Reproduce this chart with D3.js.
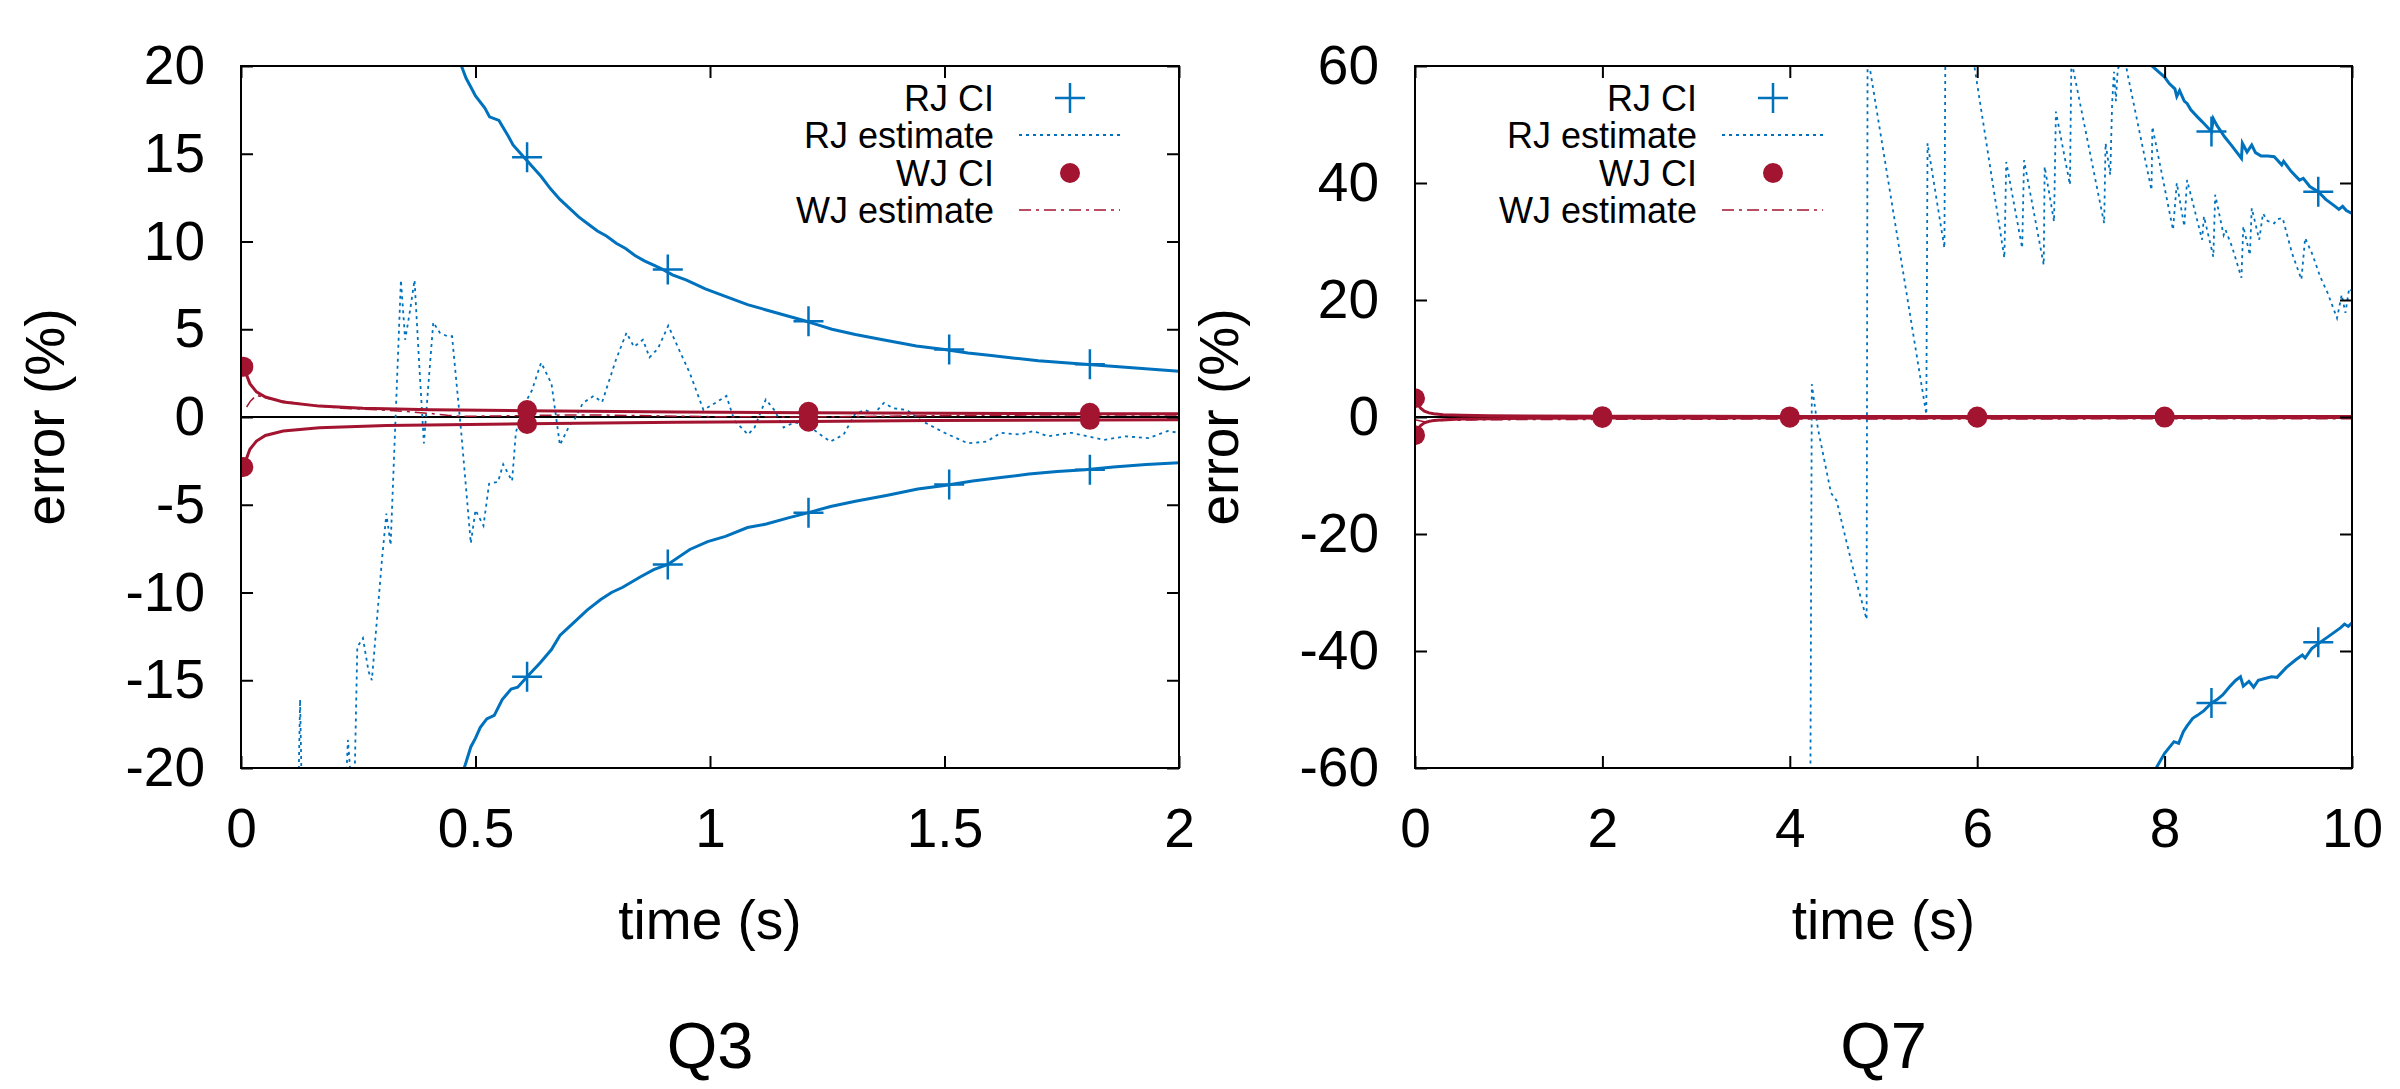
<!DOCTYPE html>
<html>
<head>
<meta charset="utf-8">
<script src="https://cdn.jsdelivr.net/npm/d3@7"></script>
<style>
  body { margin: 0; background: #fff; }
  text { font-family: "Liberation Sans", Arial, sans-serif; }
</style>
</head>
<body>
<svg id="chart" width="2400" height="1089"></svg>
<script>
// ---- data ----
const q3XTicks = [0, 0.5, 1, 1.5, 2];
const q3YTicks = [-20, -15, -10, -5, 0, 5, 10, 15, 20];
const q7XTicks = [0, 2, 4, 6, 8, 10];
const q7YTicks = [-60, -40, -20, 0, 20, 40, 60];
const legendLabels = ["RJ CI", "RJ estimate", "WJ CI", "WJ estimate"];

const q3RjUpper = [[0.46,20.6],[0.47,20.0],[0.48,19.3],[0.49,18.8],[0.5,18.3],[0.52,17.6],[0.53,17.1],[0.55,16.9],[0.57,16.0],[0.58,15.5],[0.6,14.9],[0.62,14.3],[0.64,13.7],[0.66,13.0],[0.68,12.4],[0.7,11.9],[0.72,11.4],[0.74,11.0],[0.76,10.6],[0.78,10.3],[0.8,9.9],[0.82,9.6],[0.84,9.2],[0.86,8.9],[0.88,8.65],[0.9,8.4],[0.92,8.1],[0.95,7.8],[0.99,7.3],[1.02,7.0],[1.05,6.7],[1.08,6.4],[1.12,6.1],[1.16,5.8],[1.2,5.5],[1.23,5.25],[1.26,5.0],[1.31,4.7],[1.36,4.45],[1.4,4.25],[1.44,4.05],[1.5,3.85],[1.55,3.65],[1.6,3.5],[1.65,3.35],[1.7,3.2],[1.75,3.1],[1.8,3.0],[1.85,2.9],[1.9,2.8],[1.95,2.7],[2.0,2.6]];
const q3RjLower = [[0.47,-20.6],[0.476,-20.0],[0.49,-18.8],[0.5,-18.3],[0.51,-17.7],[0.524,-17.2],[0.54,-17.0],[0.557,-16.1],[0.576,-15.5],[0.59,-15.4],[0.61,-14.8],[0.638,-14.0],[0.662,-13.25],[0.68,-12.45],[0.71,-11.7],[0.738,-11.0],[0.767,-10.4],[0.79,-10.0],[0.814,-9.7],[0.852,-9.1],[0.88,-8.7],[0.91,-8.4],[0.957,-7.55],[0.995,-7.1],[1.033,-6.8],[1.08,-6.3],[1.12,-6.1],[1.167,-5.75],[1.21,-5.45],[1.257,-5.1],[1.31,-4.8],[1.376,-4.47],[1.443,-4.1],[1.5,-3.9],[1.56,-3.65],[1.62,-3.45],[1.68,-3.25],[1.74,-3.1],[1.8,-3.0],[1.86,-2.85],[1.93,-2.7],[2.0,-2.6]];
const q3RjMarks = [[0.61,14.8],[0.91,8.4],[1.21,5.45],[1.51,3.85],[1.81,3.0],[0.61,-14.8],[0.91,-8.4],[1.21,-5.45],[1.51,-3.85],[1.81,-3.0]];
const q3RjEstimate = [[0.10,-26],[0.122,-22],[0.126,-16.1],[0.13,-22],[0.135,-26],[0.2,-26],[0.222,-22],[0.228,-18.4],[0.238,-22],[0.242,-21],[0.248,-13.1],[0.26,-12.6],[0.272,-14.5],[0.279,-15.0],[0.29,-11.5],[0.3,-8.3],[0.31,-5.5],[0.319,-7.3],[0.341,7.8],[0.35,4.4],[0.36,6.0],[0.37,7.8],[0.38,3.0],[0.39,-1.5],[0.4,2.0],[0.41,5.4],[0.424,4.8],[0.44,4.6],[0.45,4.6],[0.47,-1.0],[0.49,-7.2],[0.5,-5.3],[0.517,-6.2],[0.529,-3.8],[0.548,-3.7],[0.559,-2.7],[0.578,-3.65],[0.586,-0.9],[0.6,0.5],[0.62,1.5],[0.64,3.1],[0.662,1.9],[0.68,-1.6],[0.7,-0.5],[0.71,-0.2],[0.729,0.8],[0.752,1.2],[0.77,0.85],[0.8,3.3],[0.822,4.8],[0.838,4.0],[0.857,4.4],[0.871,3.4],[0.889,3.9],[0.911,5.2],[0.938,3.6],[0.957,2.5],[0.986,0.4],[1.005,0.7],[1.035,1.2],[1.052,-0.2],[1.081,-1.0],[1.095,-0.6],[1.119,1.0],[1.137,0.4],[1.157,-0.6],[1.18,-0.3],[1.21,-0.5],[1.235,-1.0],[1.257,-1.4],[1.285,-1.0],[1.31,0.2],[1.33,0.4],[1.35,0.2],[1.371,0.8],[1.39,0.5],[1.42,0.4],[1.45,-0.2],[1.5,-0.9],[1.55,-1.5],[1.59,-1.4],[1.62,-0.9],[1.66,-1.0],[1.69,-0.8],[1.72,-1.1],[1.77,-0.9],[1.84,-1.3],[1.886,-1.1],[1.935,-1.2],[1.976,-0.8],[2.0,-0.9]];
const q3WjUpper = [[0.005,2.87],[0.019,1.9],[0.033,1.43],[0.052,1.14],[0.09,0.86],[0.167,0.62],[0.26,0.5],[0.405,0.42],[0.61,0.36],[0.93,0.28],[1.21,0.24],[1.5,0.21],[1.81,0.19],[2.0,0.18]];
const q3WjLower = [[0.005,-2.85],[0.019,-1.84],[0.033,-1.37],[0.052,-1.05],[0.09,-0.8],[0.167,-0.61],[0.31,-0.48],[0.61,-0.38],[0.93,-0.3],[1.21,-0.25],[1.47,-0.2],[1.81,-0.17],[2.0,-0.16]];
const q3WjMarks = [[0.005,2.87],[0.005,-2.85],[0.61,0.4],[0.61,-0.4],[1.21,0.3],[1.21,-0.27],[1.81,0.24],[1.81,-0.16]];
const q3WjEstimate = [[0.012,0.57],[0.02,0.9],[0.033,1.24],[0.05,1.1],[0.08,0.95],[0.12,0.78],[0.16,0.65],[0.214,0.5],[0.26,0.45],[0.31,0.38],[0.36,0.3],[0.405,0.2],[0.44,0.1],[0.47,0.04],[0.55,0.06],[0.64,0.1],[0.75,0.12],[0.9,0.06],[1.0,0.02],[1.2,0.0],[1.4,0.05],[1.6,0.1],[1.8,0.12],[2.0,0.12]];

const q7RjUpper = [[7.85,61],[7.865,60],[8.0,58.1],[8.05,57],[8.11,56.1],[8.13,54.8],[8.16,55.8],[8.21,54.0],[8.24,53.6],[8.28,52.5],[8.35,51.3],[8.4,50.5],[8.5,48.8],[8.52,51],[8.56,49.8],[8.64,47.9],[8.72,46.3],[8.82,44.2],[8.83,46.8],[8.88,45.3],[8.93,46.5],[8.97,45.2],[9.03,44.6],[9.1,44.6],[9.17,44.5],[9.25,43.1],[9.27,43.7],[9.35,42.0],[9.44,40.5],[9.48,40.8],[9.55,39.4],[9.64,38.5],[9.72,37.2],[9.82,36.0],[9.86,35.5],[9.9,36.0],[9.94,35.3],[10.0,34.8]];
const q7RjLower = [[7.86,-61],[7.91,-60],[8.0,-57.5],[8.1,-55.5],[8.15,-55.8],[8.2,-53.8],[8.24,-52.8],[8.3,-51.5],[8.35,-51.0],[8.42,-50.2],[8.5,-48.9],[8.56,-48.3],[8.62,-47.5],[8.7,-46.0],[8.76,-45.0],[8.81,-44.4],[8.84,-46.0],[8.9,-45.2],[8.95,-46.2],[9.0,-45.0],[9.14,-44.4],[9.2,-44.5],[9.3,-42.8],[9.4,-41.5],[9.47,-40.7],[9.5,-41.2],[9.57,-39.6],[9.67,-38.4],[9.75,-37.5],[9.88,-36.0],[9.92,-35.4],[9.96,-35.8],[10.0,-35.2]];
const q7RjMarks = [[8.5,48.8],[9.64,38.5],[8.5,-48.9],[9.64,-38.5]];
const q7RjEstimate = [[4.2,-70],[4.22,-62],[4.235,5.6],[4.3,-2],[4.44,-13],[4.5,-14.3],[4.6,-21],[4.7,-27.5],[4.82,-34.6],[4.83,62],[5.457,0.45],[5.47,46.8],[5.65,28.9],[5.66,62],[5.95,62],[6.29,27.2],[6.31,43.6],[6.48,28.9],[6.5,43.9],[6.71,26],[6.72,42.8],[6.82,33.4],[6.84,52.2],[6.99,39.7],[7.005,61],[7.355,33.1],[7.37,46.8],[7.42,41.4],[7.44,53.6],[7.46,59],[7.48,54],[7.5,59.5],[7.55,61],[7.58,61],[7.6,59],[7.86,38.8],[7.87,49.6],[8.09,32],[8.13,40],[8.21,32.6],[8.24,40.5],[8.40,30.3],[8.42,34.3],[8.52,27.4],[8.54,38],[8.63,31.1],[8.65,32.0],[8.72,29.1],[8.82,23.8],[8.84,32.6],[8.91,27.7],[8.93,35.7],[9.01,30.3],[9.05,34.8],[9.1,33.5],[9.17,33.1],[9.2,33.8],[9.26,34],[9.36,28],[9.46,23.5],[9.5,30.6],[9.58,27.7],[9.66,24],[9.74,21.2],[9.84,16.9],[9.89,20.9],[9.93,17.8],[9.97,22],[10.0,21.5]];
const q7WjUpper = [[0,3.2],[0.03,2.2],[0.06,1.5],[0.1,1.0],[0.15,0.7],[0.2,0.55],[0.3,0.4],[0.5,0.3],[0.8,0.22],[1.2,0.18],[2,0.14],[3,0.12],[4,0.1],[6,0.09],[8,0.08],[10,0.07]];
const q7WjLower = [[0,-3.1],[0.03,-2.1],[0.06,-1.45],[0.1,-1.0],[0.15,-0.75],[0.2,-0.6],[0.3,-0.45],[0.5,-0.35],[0.8,-0.28],[1.2,-0.22],[2,-0.18],[3,-0.15],[4,-0.13],[6,-0.12],[8,-0.1],[10,-0.1]];
const q7WjMarks = [[0,3.2],[0,-3.1],[2,0.14],[2,-0.18],[4,0.1],[4,-0.13],[6,0.09],[6,-0.12],[8,0.08],[8,-0.1]];
const q7WjEstimate = [[0.01,-0.5],[0.1,-0.8],[0.3,-0.6],[0.6,-0.5],[1,-0.45],[2,-0.4],[4,-0.35],[6,-0.35],[8,-0.3],[10,-0.3]];

const blue = "#0072bd", red = "#a2142f";

const svg = d3.select("#chart");
svg.append("rect").attr("width", 2400).attr("height", 1089).attr("fill", "#fff");

const panels = [
  { id: "q3", title: "Q3", left: 241, right: 1179, xDomain: [0, 2], yDomain: [-20, 20],
    xTicks: q3XTicks, yTicks: q3YTicks, legendX: 994,
    rjUp: q3RjUpper, rjLo: q3RjLower, rjMarks: q3RjMarks, rjEst: q3RjEstimate,
    wjUp: q3WjUpper, wjLo: q3WjLower, wjMarks: q3WjMarks, wjEst: q3WjEstimate },
  { id: "q7", title: "Q7", left: 1415, right: 2352, xDomain: [0, 10], yDomain: [-60, 60],
    xTicks: q7XTicks, yTicks: q7YTicks, legendX: 1697,
    rjUp: q7RjUpper, rjLo: q7RjLower, rjMarks: q7RjMarks, rjEst: q7RjEstimate,
    wjUp: q7WjUpper, wjLo: q7WjLower, wjMarks: q7WjMarks, wjEst: q7WjEstimate }
];

const plotTop = 66, plotBottom = 768;
const crossPath = "M-15,0H15M0,-15V15";
const dotR = 10;

panels.forEach(p => {
  const x = d3.scaleLinear().domain(p.xDomain).range([p.left, p.right]);
  const y = d3.scaleLinear().domain(p.yDomain).range([plotBottom, plotTop]);
  const g = svg.append("g");

  g.append("clipPath").attr("id", "clip-" + p.id)
    .append("rect").attr("x", p.left).attr("y", plotTop)
    .attr("width", p.right - p.left).attr("height", plotBottom - plotTop);

  const line = d3.line().x(d => x(d[0])).y(d => y(d[1]));
  const plot = g.append("g").attr("clip-path", "url(#clip-" + p.id + ")");

  // zero line
  plot.append("line")
    .attr("x1", p.left).attr("x2", p.right)
    .attr("y1", y(0)).attr("y2", y(0))
    .attr("stroke", "#000").attr("stroke-width", 2);

  // RJ CI
  [p.rjUp, p.rjLo].forEach(s => {
    plot.append("path").datum(s).attr("d", line)
      .attr("fill", "none").attr("stroke", blue).attr("stroke-width", 3);
  });
  plot.selectAll(".cross").data(p.rjMarks).enter().append("path")
    .attr("transform", d => `translate(${x(d[0])},${y(d[1])})`)
    .attr("d", crossPath).attr("stroke", blue).attr("stroke-width", 2.5);

  // RJ estimate
  plot.append("path").datum(p.rjEst).attr("d", line)
    .attr("fill", "none").attr("stroke", blue).attr("stroke-width", 1.8)
    .attr("stroke-dasharray", "3,4");

  // WJ estimate
  plot.append("path").datum(p.wjEst).attr("d", line)
    .attr("fill", "none").attr("stroke", red).attr("stroke-width", 1.5)
    .attr("stroke-dasharray", "12,5,3,5");

  // WJ CI
  [p.wjUp, p.wjLo].forEach(s => {
    plot.append("path").datum(s).attr("d", line)
      .attr("fill", "none").attr("stroke", red).attr("stroke-width", 3);
  });
  plot.selectAll(".dot").data(p.wjMarks).enter().append("circle")
    .attr("cx", d => x(d[0])).attr("cy", d => y(d[1])).attr("r", dotR)
    .attr("fill", red);

  // axes (ticks inward on all four sides)
  const styleAxis = a => {
    a.select(".domain").remove();
    a.selectAll("line").attr("stroke", "#000").attr("stroke-width", 2);
    a.selectAll("text").attr("fill", "#000")
      .style("font-family", '"Liberation Sans", Arial, sans-serif')
      .style("font-size", "55px");
  };
  g.append("g").attr("transform", `translate(${p.left},0)`)
    .call(d3.axisLeft(y).tickValues(p.yTicks).tickSize(-12).tickPadding(36).tickFormat(d => String(d)))
    .call(styleAxis);
  g.append("g").attr("transform", `translate(${p.right},0)`)
    .call(d3.axisRight(y).tickValues(p.yTicks).tickSize(-12).tickFormat(() => ""))
    .call(styleAxis);
  g.append("g").attr("transform", `translate(0,${plotBottom})`)
    .call(d3.axisBottom(x).tickValues(p.xTicks).tickSize(-12).tickPadding(40).tickFormat(d => String(d)))
    .call(styleAxis);
  g.append("g").attr("transform", `translate(0,${plotTop})`)
    .call(d3.axisTop(x).tickValues(p.xTicks).tickSize(-12).tickFormat(() => ""))
    .call(styleAxis);

  g.append("rect").attr("x", p.left).attr("y", plotTop)
    .attr("width", p.right - p.left).attr("height", plotBottom - plotTop)
    .attr("fill", "none").attr("stroke", "#000").attr("stroke-width", 2);

  // labels
  const cx = (p.left + p.right) / 2;
  g.append("text").attr("x", cx).attr("y", 939).attr("text-anchor", "middle")
    .style("font-size", "55px").text("time (s)");
  g.append("text").attr("transform", `translate(${p.left - 177},${(plotTop + plotBottom) / 2}) rotate(-90)`)
    .attr("text-anchor", "middle").style("font-size", "55px").text("error (%)");
  g.append("text").attr("x", cx).attr("y", 1068).attr("text-anchor", "middle")
    .style("font-size", "65px").text(p.title);

  // legend
  const rowY = [98, 135, 173, 210];
  const leg = g.append("g");
  legendLabels.forEach((lab, i) => {
    leg.append("text").attr("x", p.legendX).attr("y", rowY[i]).attr("dy", "0.35em")
      .attr("text-anchor", "end").style("font-size", "36px").text(lab);
  });
  const sx0 = p.legendX + 25, sx1 = p.legendX + 126, sxm = p.legendX + 76;
  leg.append("path").attr("transform", `translate(${sxm},${rowY[0]})`)
    .attr("d", crossPath).attr("stroke", blue).attr("stroke-width", 2.5);
  leg.append("line").attr("x1", sx0).attr("x2", sx1).attr("y1", rowY[1]).attr("y2", rowY[1])
    .attr("stroke", blue).attr("stroke-width", 1.8).attr("stroke-dasharray", "3,4");
  leg.append("circle").attr("cx", sxm).attr("cy", rowY[2]).attr("r", dotR).attr("fill", red);
  leg.append("line").attr("x1", sx0).attr("x2", sx1).attr("y1", rowY[3]).attr("y2", rowY[3])
    .attr("stroke", red).attr("stroke-width", 1.5).attr("stroke-dasharray", "12,5,3,5");
});
</script>
</body>
</html>
